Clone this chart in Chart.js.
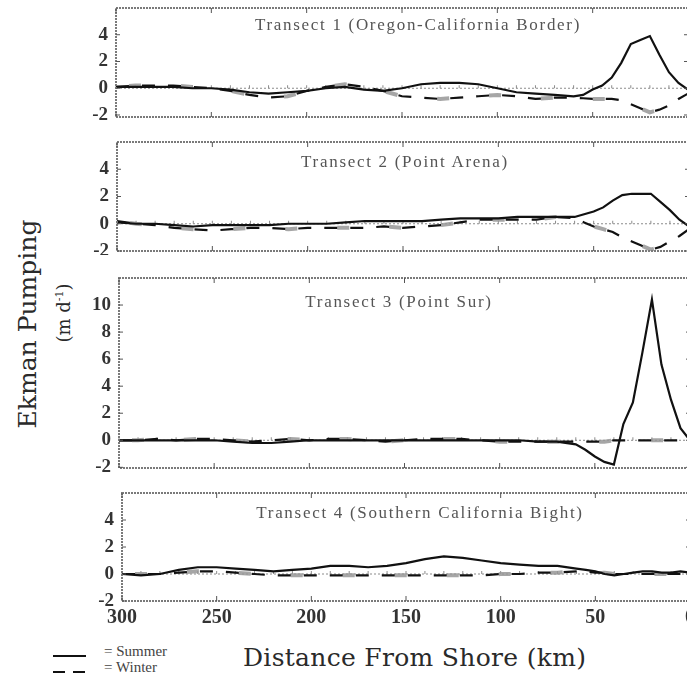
<!DOCTYPE html>
<html>
<head>
<meta charset="utf-8">
<script src="https://cdn.jsdelivr.net/npm/chart.js@4.4.1/dist/chart.umd.min.js"></script>
<style>
  html, body { margin: 0; padding: 0; background: #fff; overflow: hidden; width: 687px; height: 683px; }
  #wrap { position: relative; width: 687px; height: 683px; color: #333; }
  #wrap canvas { position: absolute; left: 0; }
  .title { position: absolute; font: 17px "Liberation Serif", serif; letter-spacing: 1.7px; color: #555; white-space: nowrap; transform: translate(-50%, -50%); }
  .ytitle { position: absolute; left: 27px; top: 324px; font: 25px "DejaVu Serif", serif; color: #2a2a2a; white-space: nowrap; transform: translate(-50%, -50%) rotate(-90deg); }
  .yunit { position: absolute; left: 63px; top: 313px; font: 18px "DejaVu Serif", serif; color: #2a2a2a; white-space: nowrap; transform: translate(-50%, -50%) rotate(-90deg); }
  .yunit sup { font-size: 11px; }
  .xtitle { position: absolute; left: 243px; top: 657px; font: 25px "DejaVu Serif", serif; letter-spacing: 0.3px; color: #2a2a2a; white-space: nowrap; transform: translateY(-50%); }
  .leg { position: absolute; left: 53px; width: 33px; height: 2px; }
  .leg.solid { top: 655px; background: #111; }
  .leg.dash { top: 671px; background: repeating-linear-gradient(90deg, #111 0 12px, transparent 12px 20px); }
  .legtxt { position: absolute; left: 104px; font: 15px "Liberation Serif", serif; color: #444; white-space: nowrap; }
</style>
</head>
<body>
<div id="wrap">
  <div class="ytitle">Ekman Pumping</div>
  <div class="yunit">(m d<sup>-1</sup>)</div>
  <div class="xtitle">Distance From Shore (km)</div>
  <div class="leg solid"></div>
  <div class="leg dash"></div>
  <div class="legtxt" style="top:643px">= Summer</div>
  <div class="legtxt" style="top:659px">= Winter</div>
</div>
<script>
'use strict';

// distance from shore (km), coarser offshore, finer near the coast
const distanceKm = [300, 290, 280, 270, 260, 250, 240, 230, 220, 210, 200, 190, 180, 170, 160, 150, 140, 130, 120, 110, 100, 90, 80, 70, 60,
                    55, 50, 45, 40, 35, 30, 25, 20, 15, 10, 5, 0];

// Ekman pumping (m/day) per transect
const t1Summer = [0.1, 0.1, 0.1, 0.1, 0, 0, -0.1, -0.3, -0.4, -0.3, -0.2, 0, 0.1, -0.1, -0.2, 0, 0.3, 0.4, 0.4, 0.3, 0, -0.3, -0.4, -0.5, -0.6,
                  -0.5, -0.1, 0.2, 0.8, 1.9, 3.3, 3.6, 3.9, 2.5, 1.2, 0.4, -0.1];
const t1Winter = [0.1, 0.2, 0.2, 0.2, 0.1, 0, -0.2, -0.5, -0.7, -0.6, -0.2, 0.1, 0.3, 0.1, -0.2, -0.6, -0.7, -0.8, -0.7, -0.6, -0.5, -0.6, -0.8, -0.7, -0.7,
                  -0.75, -0.8, -0.8, -0.8, -0.9, -1.2, -1.5, -1.8, -1.6, -1.3, -0.8, -0.4];

const t2Summer = [0.1, 0, 0, -0.1, -0.2, -0.1, -0.1, -0.1, -0.1, 0, 0, 0, 0.1, 0.2, 0.2, 0.2, 0.2, 0.3, 0.4, 0.4, 0.4, 0.5, 0.5, 0.5, 0.5,
                  0.7, 0.9, 1.2, 1.7, 2.1, 2.2, 2.2, 2.2, 1.6, 1.0, 0.3, -0.2];
const t2Winter = [0.2, 0, -0.1, -0.3, -0.4, -0.5, -0.4, -0.3, -0.3, -0.4, -0.3, -0.3, -0.3, -0.3, -0.2, -0.3, -0.2, -0.1, 0.1, 0.3, 0.3, 0.3, 0.3, 0.5, 0.4,
                  0.1, -0.2, -0.4, -0.6, -1.0, -1.3, -1.6, -1.9, -1.7, -1.3, -0.9, -0.4];

const t3Summer = [0, 0, 0, 0, 0, 0, -0.1, -0.2, -0.2, -0.1, 0, 0, 0, 0, 0, 0, 0, 0, 0, 0, 0, 0, -0.1, -0.1, -0.3,
                  -0.7, -1.2, -1.6, -1.8, 1.2, 2.8, 6.5, 10.4, 5.6, 3.0, 0.9, 0];
const t3Winter = [0, 0, 0.1, 0, 0.1, 0.1, 0, -0.1, 0, 0.1, 0, 0.1, 0.1, 0, -0.1, 0, 0.1, 0.1, 0.1, 0, -0.1, -0.1, -0.1, -0.1, -0.1,
                  -0.1, -0.1, -0.1, 0, 0, 0, 0, 0, 0, 0, 0, 0];

const t4Summer = [0, -0.1, 0, 0.3, 0.5, 0.5, 0.4, 0.3, 0.2, 0.3, 0.4, 0.6, 0.6, 0.5, 0.6, 0.8, 1.1, 1.3, 1.2, 1.0, 0.8, 0.7, 0.6, 0.6, 0.4,
                  0.3, 0.2, 0, -0.1, 0, 0.1, 0.2, 0.2, 0.1, 0.1, 0.2, 0.1];
const t4Winter = [0, 0, 0, 0.1, 0.2, 0.2, 0.1, 0, -0.1, -0.1, -0.1, -0.1, -0.1, -0.1, -0.1, -0.1, -0.1, -0.1, -0.1, -0.1, 0, 0, 0.1, 0.1, 0.2,
                  0.2, 0.1, 0.1, 0, 0, 0, 0, 0, 0, 0, 0, 0];

const transectTitles = ['Transect 1 (Oregon-California Border)', 'Transect 2 (Point Arena)',
                        'Transect 3 (Point Sur)', 'Transect 4 (Southern California Bight)'];
const yTickValues = [[-2, 0, 2, 4], [-2, 0, 2, 4], [-2, 0, 2, 4, 6, 8, 10], [-2, 0, 2, 4]];
const xTickValues = [300, 250, 200, 150, 100, 50, 0];

// panel boxes on the page (plot area edges) and titles placement
const panels = [
  { left: 116, right: 688, top: 8,   bottom: 117, min: -2.15, max: 6,  tx: 418, ty: 25 },
  { left: 117, right: 689, top: 142, bottom: 251, min: -2,    max: 6,  tx: 405, ty: 162 },
  { left: 119, right: 690, top: 278, bottom: 468, min: -2.05, max: 12, tx: 399, ty: 302 },
  { left: 122, right: 690, top: 493, bottom: 601, min: -2,    max: 6,  tx: 420, ty: 513 }
];
const series = [[t1Summer, t1Winter], [t2Summer, t2Winter], [t3Summer, t3Winter], [t4Summer, t4Winter]];

const CANVAS_W = 700;
const PAD = 4;
const XAXIS_H = 26;

function noScalePadding(s) {
  s.paddingTop = 0;
  s.paddingBottom = 0;
  s.paddingLeft = 0;
  s.paddingRight = 0;
}

const framePlugin = {
  id: 'frame',
  beforeDatasetsDraw(chart) {
    const { ctx, chartArea: a, scales: { x, y } } = chart;
    const y0 = y.getPixelForValue(0);
    ctx.save();
    ctx.strokeStyle = '#8c8c8c';
    ctx.lineWidth = 1;
    ctx.setLineDash([2, 2]);
    ctx.beginPath();
    ctx.moveTo(a.left, y0);
    ctx.lineTo(a.right, y0);
    ctx.stroke();
    ctx.setLineDash([]);
    ctx.beginPath();
    for (let d = 0; d <= 300; d += 10) {
      const px = x.getPixelForValue(d);
      ctx.moveTo(px, y0);
      ctx.lineTo(px, y0 - 3);
    }
    ctx.stroke();
    ctx.restore();
  },
  afterDraw(chart) {
    const { ctx, chartArea: a, scales: { x, y } } = chart;
    ctx.save();
    ctx.strokeStyle = '#7a7a7a';
    ctx.lineWidth = 2;
    ctx.setLineDash([2, 1]);
    ctx.strokeRect(a.left, a.top, a.right - a.left, a.bottom - a.top);
    ctx.setLineDash([]);
    ctx.lineWidth = 1;
    ctx.strokeStyle = '#555';
    ctx.beginPath();
    for (const d of xTickValues) {
      const px = x.getPixelForValue(d);
      ctx.moveTo(px, a.top); ctx.lineTo(px, a.top + 5);
      ctx.moveTo(px, a.bottom); ctx.lineTo(px, a.bottom - 5);
    }
    for (const t of y.ticks) {
      const py = y.getPixelForValue(t.value);
      ctx.moveTo(a.left, py); ctx.lineTo(a.left + 4, py);
      ctx.moveTo(a.right, py); ctx.lineTo(a.right - 4, py);
    }
    ctx.stroke();
    ctx.restore();
  }
};

const wrap = document.getElementById('wrap');

panels.forEach((p, i) => {
  const last = i === panels.length - 1;
  const canvas = document.createElement('canvas');
  const h = (p.bottom - p.top) + PAD * 2 + (last ? XAXIS_H - PAD : 0);
  canvas.width = CANVAS_W;
  canvas.height = h;
  canvas.style.width = CANVAS_W + 'px';
  canvas.style.height = h + 'px';
  canvas.style.top = (p.top - PAD) + 'px';
  wrap.appendChild(canvas);

  const title = document.createElement('div');
  title.className = 'title';
  title.style.left = p.tx + 'px';
  title.style.top = p.ty + 'px';
  title.textContent = transectTitles[i];
  wrap.appendChild(title);

  const [summer, winter] = series[i];
  const toPoints = vals => distanceKm.map((d, k) => ({ x: d, y: vals[k] }));

  new Chart(canvas.getContext('2d'), {
    type: 'line',
    data: {
      datasets: [{
        label: 'Summer',
        data: toPoints(summer),
        borderColor: '#111',
        borderWidth: 2.2,
        pointRadius: 0,
        tension: 0,
        order: 1
      }, {
        label: 'Winter',
        data: toPoints(winter),
        borderColor: '#111',
        borderWidth: 2.2,
        borderDash: [13, 13],
        pointRadius: 0,
        tension: 0,
        order: 2
      }, {
        // grey speckled stretches the scan shows along the winter curve
        label: 'Winter (grey)',
        data: toPoints(winter),
        borderColor: 'rgba(150,150,150,0.85)',
        borderWidth: 4,
        borderDash: [12, 40],
        borderDashOffset: -13,
        pointRadius: 0,
        tension: 0,
        order: 3
      }]
    },
    options: {
      responsive: false,
      animation: false,
      events: [],
      layout: {
        autoPadding: false,
        padding: { top: PAD, bottom: last ? 0 : PAD, left: 0, right: CANVAS_W - p.right }
      },
      plugins: {
        legend: { display: false },
        tooltip: { enabled: false }
      },
      scales: {
        x: {
          type: 'linear',
          reverse: true,
          min: 0,
          max: 300,
          display: last,
          afterBuildTicks: s => { s.ticks = xTickValues.map(v => ({ value: v })); },
          afterFit: s => { s.height = last ? XAXIS_H : 0; noScalePadding(s); },
          ticks: {
            padding: 5,
            maxRotation: 0,
            autoSkip: false,
            color: '#333',
            font: { family: '"Liberation Serif", serif', size: 20, weight: 'bold' }
          },
          grid: { display: false, drawTicks: false },
          border: { display: false }
        },
        y: {
          type: 'linear',
          min: p.min,
          max: p.max,
          afterBuildTicks: s => { s.ticks = yTickValues[i].map(v => ({ value: v })); },
          afterFit: s => { s.width = p.left; noScalePadding(s); },
          ticks: {
            padding: 8,
            autoSkip: false,
            color: '#333',
            font: { family: '"Liberation Serif", serif', size: 19, weight: 'bold' }
          },
          grid: { display: false, drawTicks: false },
          border: { display: false }
        }
      }
    },
    plugins: [framePlugin]
  });
});
</script>
</body>
</html>
